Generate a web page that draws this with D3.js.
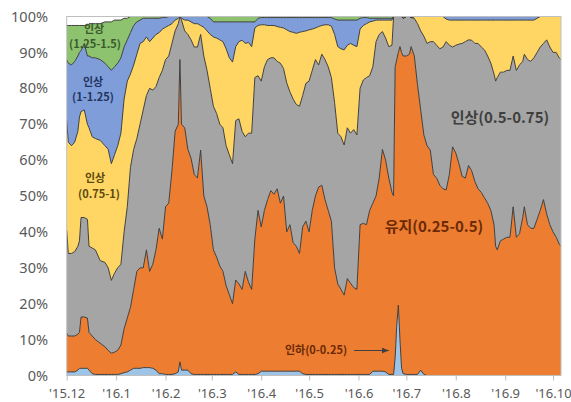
<!DOCTYPE html>
<html><head><meta charset="utf-8">
<script src="https://cdn.jsdelivr.net/npm/d3@7/dist/d3.min.js"></script>
<style>body{margin:0;background:#fff}svg{display:block}</style>
</head><body>
<svg id="chart" width="571" height="402"></svg>
<script>
// ---- data (share of probability, %) ----
const startDate = "2015-12-01";
const dayOffsets = [0,1,3,5,7,8,9,11,13,14,16,18,21,24,26,28,30,32,34,36,38,40,42,44,46,48,50,52,54,56,58,60,62,64,66,68,70,71,72,74,76,78,80,82,84,86,88,90,92,94,96,98,100,102,104,106,108,110,112,114,116,118,120,122,124,126,128,130,132,134,136,138,140,142,144,146,148,150,152,154,156,158,160,162,164,166,168,170,172,174,176,178,180,182,184,186,188,190,192,194,196,198,200,202,204,205,206,207,208,209,210,211,213,215,216,218,220,222,224,226,228,230,232,234,236,238,240,242,244,246,248,250,252,254,256,258,260,262,264,266,268,269,270,272,274,276,278,280,282,284,286,287,289,291,293,295,297,299,301,303,305,307,309,310];

const cut = [1,1,1,1,1.5,2,2,2,2,1.5,0.5,0.3,0.3,0.3,0.3,0.3,0.3,0.3,0.5,0.8,1,1.5,2,2,2,2.2,2.2,2.2,2,1.5,0.5,0.5,0.3,0.3,0.3,0.5,1,3.8,1.5,1.5,1.5,0.5,
0.3,0.3,0.3,0.3,0.3,0.3,0.3,0.3,0.3,0.3,0.3,0.3,0.3,1,0.3,0.3,0.3,0.3,0.3,0.3,0.5,
1.2,1.2,1.2,1.2,1.2,1.2,1.2,1.2,1.2,1.2,1.2,1.2,1.2,0.5,
0.3,0.3,0.3,0.3,0.3,0.3,0.3,0.3,0.3,0.3,0.3,0.3,0.3,0.3,0.3,0.3,0.3,0.3,0.3,0.3,0.3,
1.2,1.2,1.2,1.2,1,0.3,0.3,0.3,5,14,19.6,10,2,0.5,0.3,0.3,0.3,0.3,0.3,1.5,0.3,
0,0,0,0,0,0,0,0,0,0,0,0,0,0,0,0,0,0,0,0,0,0,0,0,0,0,0,0,0,0,0,0,0,0,0,0,0,0,0,0,0,0,0,0,0];

const hold = [10.8,10,10,10,10,10,14.3,14.3,14,10.5,10.5,9.7,8.7,7.7,6.7,5.9,6.2,6.7,8,12.2,15,17.5,22,27,28,27.8,32.8,26.8,29,33.5,40.5,37.5,46.7,47.7,56.7,67.5,69,84.2,68.5,67.5,61.5,60,55.7,54.7,62.5,49.7,46.7,41.7,34.7,32.7,30.2,28.7,24.7,22.2,19.7,25.6,25.2,23.7,28.7,25.7,23.7,37.7,45.5,40.2,44.8,47.8,50.3,49.3,50.8,46.8,48.8,38.8,40.8,35.8,34.8,32.8,40.9,42.7,39.7,45.7,49.7,52.2,52.7,48.7,45.7,42.7,29.7,25.2,23.7,22.1,26.7,25.4,24.2,23.7,41.7,42.1,41.7,45.7,46.8,48.8,53.8,61.8,59,54.7,50.7,49.7,81,74,70.4,81.6,88,88.5,88.7,89.2,91.3,88.7,80.7,72.5,66.7,64,62.8,56,55,53,52,51.7,56,63.7,62,59,55.5,55,58.5,57,54,52,51,49.5,48,46,42,36,35,37.5,38,38.5,38.5,47,38.5,39.5,44,47,42,41,41,43.5,46,49,45,42,40,38.5,36.5,36];

const hike050 = [28.7,23,23,23.5,24.5,25.5,27.7,27.7,27.5,24,24.5,25,23,23.5,23,20.3,22,23,22.5,27,31,39,39,37,40,44,43,51,48.5,45.5,42,47,41,41,35.5,28,28,12,29,27,32,33,35.5,36.5,32.2,39,38,38,40,40,39.5,40,39,39,39,44.4,46,44,37.5,41.5,43.5,45,37.5,40.6,40,39,37,38,35.5,39,35.5,41.5,37,40,39.5,41,36.6,38.4,42,39,38,34,36.5,39,40,40,46,42,42.5,41.8,42,41.8,44,43,38,39.9,41,37.5,38,43,40,32.8,34,36.6,41,50,14,12,10,8.4,10,10.5,11,10.5,8.1,10.5,17,22,27.5,28.5,30.2,37,37,38,39.5,41.3,36,27.8,30,33.3,37,38,35,36.4,38.5,40.5,40.5,41.2,41,41,42,46,48,47,46.5,46.5,46.5,42,46.5,47,43.5,42.5,46,46.5,47.5,46.5,45.5,43.5,48.5,49.5,50,51.5,51.9,52];

const hike075 = [30.5,31,30,30.5,32,34.5,29.5,30,26.5,33,31,31,33.5,32.5,33,32.5,33,34,36.5,37,35,26,23.5,23.5,22.5,19,16.3,13,14.5,14.5,12.5,11.5,9,8.5,5.5,3,1.5,0,0.5,3,4,5,6.5,6.5,2.5,8,11,15,19.3,21,23.5,24,27,27,28.3,20.6,21.5,25.4,26,25.3,24.1,13.8,14,15.7,11.7,9.5,9,9,9.7,10,11.3,14.8,16.8,18.6,19.8,20.6,17.8,14.6,14.3,11.5,8.8,10.7,8,9.7,11.7,14.3,19,24.1,24.5,26.5,23,25,23.5,24.6,16.5,15.2,15,15,12.7,6,4,3.2,5,7.4,7,0,0,0,0,0,0,0,0,0,0,0.5,2,4,5.5,7.5,7,7,8,9,8.5,6.3,7,7.5,7,6.7,6.5,6,5.5,5.6,6.5,6.5,7.5,8.3,10,12,15,17,16,14.5,14.5,14,14,10,14,12.5,11.5,9.5,11,11.5,10.5,9.5,8.5,7.5,6.5,8.5,10,10,11.6,12];

const hike100 = [17,22,22.5,22.5,21,18,17,18.5,19,20,22,22.5,22.5,23,23,26,24.5,23,21,14.5,11.5,11.5,11,9,6.5,6.5,5.2,6.5,5.5,4.5,4,3.2,2.7,2.5,2,1,0.5,0,0.5,1,1,1.5,2,2,2.5,3,4,4.5,4.2,4.5,5,5.5,7.5,10,11.2,6.9,5.5,5.1,6,5.7,6.9,1.7,2,2,2,2.2,2.2,2.2,2.5,2.7,2.9,3.4,3.9,4.1,4.4,4.1,3.9,3.7,3.4,3.2,2.9,2.5,2.2,2,2,2.4,4.3,7.4,8,8.3,7,6.5,7,7.4,3,2.2,1.7,1,0.8,0.5,0.5,0.5,0.5,0.5,0.5,
0,0,0,0,0,0,0,0,0,0,0,0,0,0,0,0,0,0,0,0,0.7,
1,1,1,1,1,1,1,1,1,1,1,1,1,1,1,1,1,1,1,1,1,1,1,1,1,1,1,1,1,0.5,0,0,0,0,0,0,0,0];

const hike125 = [9.5,10.5,11,10,8.5,7.5,7,5,8.5,9,9.5,9.5,10,11.5,12.5,13.5,13,12,10.5,8,6,4.5,2.5,1.5,1,0.5,0.5,0.5,0.5,0.5,0.5,0.3,0.3,
0,0,0,0,0,0,0,0,0,0,0,0,0,0,0.5,
1.5,1.5,1.5,1.5,1.5,1.5,1.5,1.5,1.5,1.5,1.5,1.5,1.5,1.5,0.5,
0.3,0.3,0.3,0.3,0.3,0.3,0.3,0.3,0.3,0.3,0.3,0.3,0.3,0.3,0.3,0.3,0.3,0.3,0.3,0.3,0.3,0.3,0.3,0.7,
1,1,1,1,1,1,1,0.5,0.3,0.3,0.5,0.5,0.5,0.5,0.5,0.5,0.5,0.5,
0,0,0,0,0,0,0,0,0,0,0,0,0,0,0,0,0,0,0,0,0,0,0,0,0,0,0,0,0,0,0,0,0,0,0,0,0,0,0,0,0,0,0,0,0,0,0,0,0,0,0,0,0,0,0,0,0,0,0];

const seriesKeys = ["cut","hold","hike050","hike075","hike100","hike125"];
const seriesColors = ["#9DC3E6","#ED7D31","#A5A5A5","#FFD663","#7F9ED9","#8DC26F"];
const yTicks = [0,10,20,30,40,50,60,70,80,90,100];
const xTickMonths = ["2015-12-01","2016-01-01","2016-02-01","2016-03-01","2016-04-01","2016-05-01","2016-06-01","2016-07-01","2016-08-01","2016-09-01","2016-10-01"];
const xTickLabels = ["'15.12","'16.1","'16.2","'16.3","'16.4","'16.5","'16.6","'16.7","'16.8","'16.9","'16.10"];
const lastDay = 310;

(function draw() {
  const t0 = Date.parse(startDate + "T00:00:00Z");
  const toDate = d => new Date(t0 + d * 86400000);
  const arrays = [cut, hold, hike050, hike075, hike100, hike125];
  const rows = dayOffsets.map((d, i) => {
    const r = {date: toDate(d)};
    seriesKeys.forEach((k, j) => r[k] = arrays[j][i] ?? 0);
    return r;
  });

  const svg = d3.select("#chart");
  const pL = 66.7, pR = 561, pT = 16.5, pB = 375.5;
  const x = d3.scaleUtc().domain([toDate(0), toDate(lastDay)]).range([pL, pR]);
  const y = d3.scaleLinear().domain([0, 100]).range([pB, pT]);

  const stacked = d3.stack().keys(seriesKeys)(rows);

  const defs = svg.append("defs");
  defs.append("clipPath").attr("id","clip").append("rect")
    .attr("x", pL).attr("y", pT).attr("width", pR-pL).attr("height", pB-pT);

  const g = svg.append("g").attr("clip-path","url(#clip)");
  const area = d3.area().x(d => x(d.data.date)).y0(d => y(d[0])).y1(d => y(d[1]));
  const line = d3.line().x(d => x(d.data.date)).y(d => y(d[1]));

  g.selectAll("path.area").data(stacked).join("path")
    .attr("class","area").attr("d", area).attr("fill", (d,i) => seriesColors[i]);
  g.selectAll("path.edge").data(stacked).join("path")
    .attr("class","edge").attr("d", line).attr("fill","none")
    .attr("stroke","#3f3f3f").attr("stroke-width",1).attr("stroke-linejoin","round");

  svg.append("rect").attr("x", pL).attr("y", pT).attr("width", pR-pL).attr("height", pB-pT)
    .attr("fill","none").attr("stroke","#bfbfbf").attr("stroke-width",1);

  const yAxis = d3.axisLeft(y).tickValues(yTicks).tickSize(0).tickPadding(0).tickFormat(d => d + "%");
  const ya = svg.append("g").attr("transform", "translate(48,0)").call(yAxis);
  ya.select(".domain").remove();
  ya.selectAll("text").attr("fill","#595959").style("font-family","'Noto Sans', sans-serif").style("font-size","14.5px");

  const tickDates = xTickMonths.map(s => new Date(Date.parse(s + "T00:00:00Z")));
  const xAxis = d3.axisBottom(x).tickValues(tickDates).tickSize(5).tickPadding(8)
    .tickFormat((d,i) => xTickLabels[i]);
  const xa = svg.append("g").attr("transform", `translate(0,${pB})`).call(xAxis);
  xa.select(".domain").remove();
  xa.selectAll("line").attr("stroke","#bfbfbf");
  xa.selectAll("text").attr("fill","#595959").style("font-family","'Noto Sans', sans-serif").style("font-size","13px");

  const font = "'Noto Sans CJK KR', sans-serif";
  function label(lines, cx, cy, size, color, gap) {
    const t = svg.append("text").attr("text-anchor","middle").attr("fill", color)
      .style("font-family", font).style("font-weight","700").style("font-size", size + "px");
    lines.forEach((s, i) => {
      t.append("tspan").attr("x", cx + (s.dx || 0)).attr("y", cy + i * (gap || 0))
        .attr("dominant-baseline","central").text(s.t);
    });
  }
  label([{t:"인상"}, {t:"(1.25-1.5)", dx:1}], 94, 27.5, 11, "#3b5a2b", 15.5);
  label([{t:"인상"}, {t:"(1-1.25)"}], 93, 80.5, 11, "#1f3560", 15.5);
  label([{t:"인상"}, {t:"(0.75-1)", dx:4}], 95, 177, 11, "#5b4a10", 15.5);
  label([{t:"인상(0.5-0.75)"}], 500, 116, 15, "#3f3f3f");
  label([{t:"유지(0.25-0.5)"}], 434, 225, 15, "#6b2a06");
  label([{t:"인하(0-0.25)"}], 316, 349, 11, "#6b2a06");

  defs.append("marker").attr("id","arr").attr("viewBox","0 0 10 10")
    .attr("refX",10).attr("refY",5).attr("markerWidth",7).attr("markerHeight",7).attr("orient","auto")
    .append("path").attr("d","M0,1L10,5L0,9z").attr("fill","#404040");
  svg.append("line").attr("x1",354).attr("y1",350.5).attr("x2",389).attr("y2",350.5)
    .attr("stroke","#404040").attr("stroke-width",1).attr("marker-end","url(#arr)");
})();
</script>
</body></html>
